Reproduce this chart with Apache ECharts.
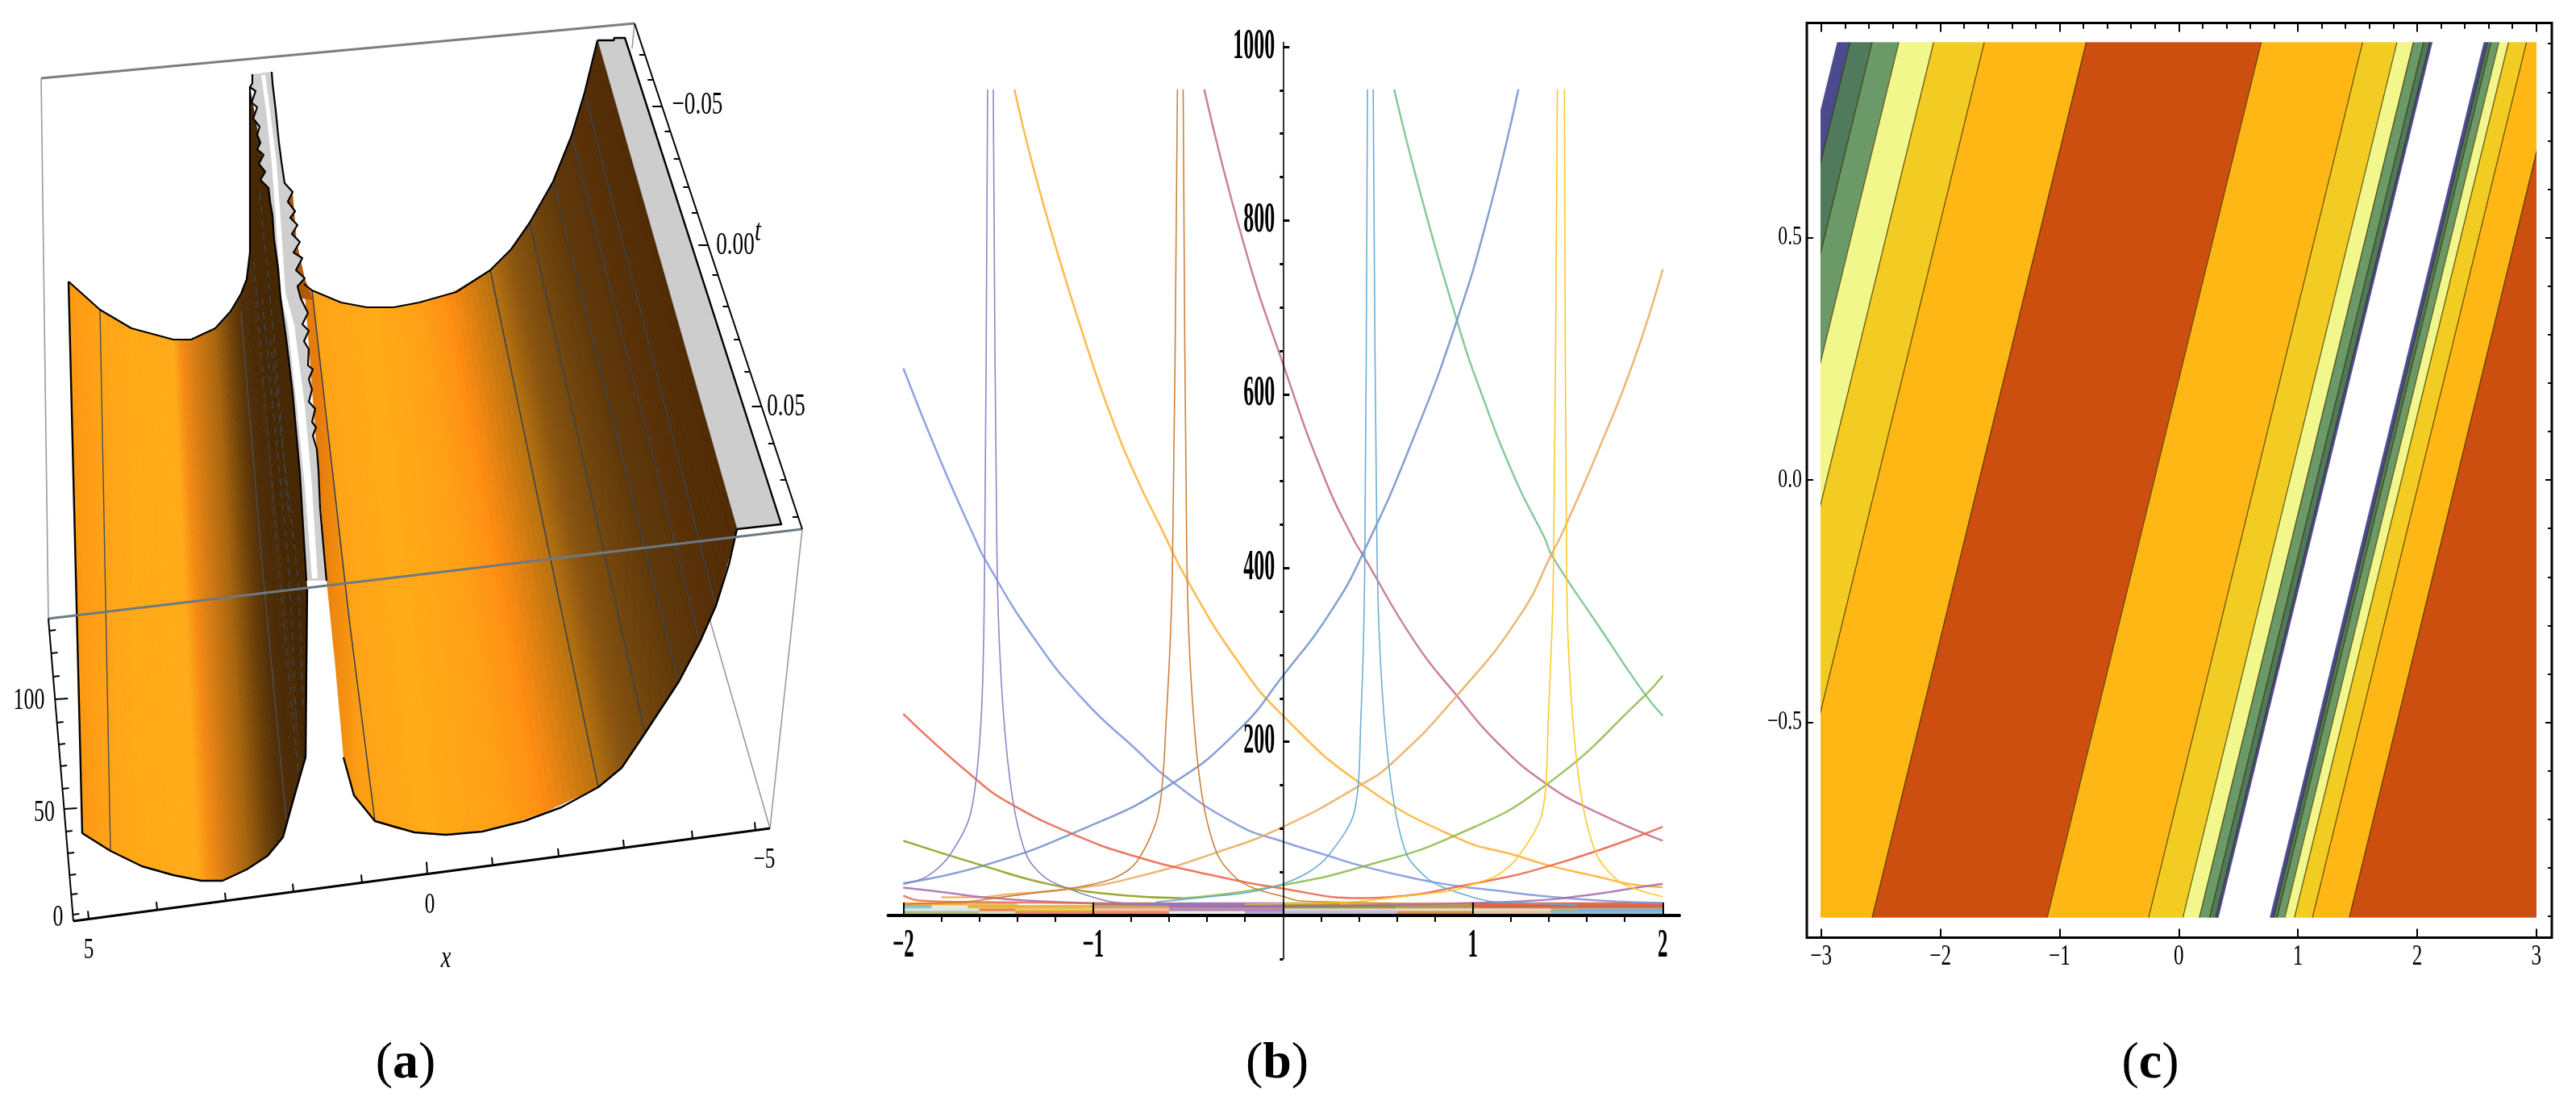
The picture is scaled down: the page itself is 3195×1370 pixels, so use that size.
<!DOCTYPE html>
<html><head><meta charset="utf-8">
<script src="https://cdn.jsdelivr.net/npm/echarts@6/dist/echarts.min.js"></script>
<style>html,body{margin:0;padding:0;background:#fff}#c{width:3195px;height:1370px}</style>
</head><body><div id="c"></div>
<script>
// ---------- panel (b): curves, [x, value] ----------
const periwinkle=[[-2,630],[-1.807,525],[-1.623,434],[-1.57,410],[-1.32,322],[-1.05,248],[-0.778,192],[-0.59,155],[-0.236,104],[0,85],[0.235,69],[0.415,57],[0.705,42],[0.918,34],[1.13,28.5],[1.34,23],[1.55,19],[1.76,16],[2,14.5]];
const orangeFall=[[-1.415,951],[-1.32,865],[-1.184,760],[-1.048,665],[-0.913,579],[-0.778,507],[-0.642,446],[-0.507,387],[-0.236,292],[0,230],[0.415,151],[0.92,89],[1.23,69],[1.41,57],[1.69,43],[1.83,36],[2,32.5]];
const roseFall=[[-0.415,951],[-0.209,775],[0,635],[0.225,500],[0.374,432],[0.415,417],[0.7,313],[0.916,253],[1.12,201],[1.39,151],[1.66,118],[2,86]];
const greenFall=[[0.585,951],[0.713,840],[0.916,685],[1.038,605],[1.228,500],[1.377,435],[1.417,414],[1.66,334],[1.905,255],[2,230]];
const slateRise=[[-2,37],[-1.57,58],[-1.05,100],[-0.59,151],[-0.236,213],[0,276],[0.252,350],[0.428,420],[0.686,549],[0.916,685],[1.09,814],[1.24,951]];
const tanRise=[[-1.8,21],[-1.59,21],[-1.47,24],[-1.1,31],[-0.778,44],[-0.344,73],[0,102],[0.415,151],[0.577,176],[0.916,253],[1.25,346],[1.417,417],[1.47,440],[1.66,535],[1.85,640],[2,744]];
const oliveFall=[[-2,86],[-1.59,58],[-1.21,35],[-0.83,23],[-0.53,20]];
const greenRise=[[-0.53,20],[-0.37,23],[0,35],[0.415,56],[0.916,93],[1.39,151],[1.905,253],[2,276]];
const redCurve=[[-2,232],[-1.645,162],[-1.43,128],[-1.076,91],[-0.778,68],[-0.45,50],[0,31],[0.415,20],[0.55,21],[0.916,33],[1.417,58],[2,102]];
const purpleLow=[[-2,32],[-1.875,29],[-1.76,26],[-1.66,23],[-1.52,20],[-1.24,16],[-0.9,13.5],[-0.5,12],[0,11],[0.5,12],[1.098,15],[1.27,16.5],[1.41,18.5],[1.55,22],[1.69,26],[1.83,31],[2,36.5]];
const redLow=[[-2,23],[-1.9,17],[-1.66,15.5],[-1.3,15],[-1,14],[-0.7,13.5]];
const purplePeakL=[[-2,36],[-1.875,45],[-1.76,68],[-1.645,118],[-1.59,226],[-1.572,392],[-1.556,951]];
const purplePeakR=[[-1.526,951],[-1.507,420],[-1.483,267],[-1.43,143],[-1.352,70],[-1.25,43],[-1.095,28],[-0.897,15.5],[-0.67,13],[0,11]];
const brownPeakL=[[-2,13],[-1.66,16],[-1.45,22],[-1.24,28],[-1.07,33],[-0.89,43],[-0.77,62],[-0.656,118],[-0.615,226],[-0.583,392],[-0.556,951]];
const brownPeakR=[[-0.526,951],[-0.507,420],[-0.483,267],[-0.43,143],[-0.347,71],[-0.247,43],[-0.148,31],[0,22],[0.08,17],[0.28,15.5],[0.56,14],[1,13]];
const bluePeakL=[[-0.67,15.5],[-0.32,23],[-0.17,27],[0,36.5],[0.135,50],[0.235,68],[0.374,118],[0.41,226],[0.43,392],[0.445,951]];
const bluePeakR=[[0.475,951],[0.495,420],[0.52,267],[0.575,143],[0.652,70],[0.758,43],[0.843,32.5],[0.985,22],[1.098,16],[1.27,14.5],[1.55,12]];
const yellowPeakL=[[-0.2,13],[0.135,14],[0.39,16],[0.63,22],[0.758,25],[0.9,29],[0.985,35],[1.126,46],[1.24,68],[1.365,118],[1.397,226],[1.424,392],[1.445,951]];
const yellowPeakR=[[1.482,951],[1.494,392],[1.513,267],[1.567,143],[1.65,71],[1.763,40],[1.876,29],[2,21.7]];
const lowRowValues=[13,10,6,3];
const lowRowBreaks=[[-2,-1.66,-1.4,-1,0,0.3,0.56,0.985,2],[-2,-1.85,-1.66,-1,-0.6,0,0.6,1,2],[-2,-1.6,-1.41,-0.98,-0.6,0,0.6,1.41,1.55,2],[-2,-1.6,-1.41,-0.6,-0.2,0,0.6,1,1.41,2]];
const bTickMajor=[0,200,400,600,800,1000];
const bTickMinor=[-50,50,100,150,250,300,350,450,500,550,650,700,750,850,900,950];
const bXTickMajor=[-2,-1,0,1,2];
const bXTickMinor=[-1.8,-1.6,-1.4,-1.2,-0.8,-0.6,-0.4,-0.2,0.2,0.4,0.6,0.8,1.2,1.4,1.6,1.8];
const bYLabels=[[200,'200'],[400,'400'],[600,'600'],[800,'800'],[1000,'1000']];
const bXLabels=[[-2,'−2'],[-1,'−1'],[1,'1'],[2,'2']];
// ---------- panel (c): contour lines, x at lower and upper edge ----------
const contourBottomX=[-7,-4.659,-4.552,-4.367,-4.143,-3.851,-3.426,-2.571,-1.102,-0.252,0.036,0.174,0.260,0.311,0.337,0.766,0.796,0.826,0.891,0.972,1.123,1.432,6];
const contourTopX=[-7,-2.863,-2.756,-2.571,-2.347,-2.055,-1.630,-0.775,0.694,1.544,1.832,1.970,2.056,2.107,2.133,2.562,2.592,2.622,2.687,2.768,2.919,3.228,7.8];
const cXMajor=[-3,-2,-1,0,1,2,3];
const cXMinor=[-2.8,-2.6,-2.4,-2.2,-1.8,-1.6,-1.4,-1.2,-0.8,-0.6,-0.4,-0.2,0.2,0.4,0.6,0.8,1.2,1.4,1.6,1.8,2.2,2.4,2.6,2.8];
const cYMajor=[-0.5,0,0.5];
const cYMinor=[-0.9,-0.8,-0.7,-0.6,-0.4,-0.3,-0.2,-0.1,0.1,0.2,0.3,0.4,0.6,0.7,0.8,0.9];
const cXLabels=[[-3,'−3'],[-2,'−2'],[-1,'−1'],[0,'0'],[1,'1'],[2,'2'],[3,'3']];
const cYLabels=[[-0.5,'−0.5'],[0,'0.0'],[0.5,'0.5']];
// ---------- panel (a): surface read in the picture's view plane ----------
const leftBack=[[85,349],[124,384],[163,407],[215,421],[225,421],[237,421],[267,407],[286,386],[299,364],[306,346],[310,313]];
const leftFront=[[102,1033],[137,1055],[176,1074],[245,1092],[263,1092],[276,1092],[306,1078],[332,1061],[351,1038],[364,991],[374,956]];
const leftDark=[[310,313],[310,107],[338,267],[348,370],[363,487],[372,587],[381,728],[379,939],[374,956]];
const rightBack=[[387,360],[423,375],[455,381],[488,381],[520,375],[556,366],[608,335],[634,309],[657,276],[686,225],[709,168],[725,115],[741,50]];
const rightFront=[[465,1018],[490,1027],[530,1034],[565,1035],[625,1024],[675,1007],[742,976],[771,952],[800,909],[842,845],[868,796],[888,751],[914,656]];
const rightInner=[[377,350],[405,720],[416,828],[426,939],[439,986],[465,1018],[387,360]];
const backEdgeRight=[[377,352],[387,360],[423,375],[455,381],[488,381],[520,375],[566,362],[608,335],[634,309],[657,276],[686,225],[709,168],[725,115],[741,50]];
const frontEdgeRight=[[426,939],[439,986],[465,1018],[514,1032],[553,1035],[598,1031],[650,1018],[696,1001],[742,976],[771,952],[800,909],[842,845],[868,796],[888,751],[904,700],[914,656]];
const backEdgeLeft=[[85,349],[124,384],[163,407],[215,421],[237,421],[267,407],[286,386],[299,364],[306,346],[310,313],[310,107]];
const frontEdgeLeft=[[85,349],[102,1033],[137,1055],[176,1074],[215,1085],[250,1092],[276,1092],[306,1078],[332,1061],[351,1038],[364,991],[374,956],[379,939],[381,728]];
const capOutline=[[741,50],[761,50],[762,47],[775,47],[780,62],[969,650],[914,656]];
const ribbonLeft=[[313,92],[313,103],[310,108],[317,113],[312,127],[319,133],[314,147],[322,157],[319,167],[323,177],[319,185],[327,192],[321,203],[329,213],[323,223],[333,233],[335,250],[338,267],[340,297],[345,333],[348,370],[355,420],[363,487],[372,587],[380,720]];
const ribbonRight=[[337,89],[338,103],[342,137],[346,177],[349,200],[353,227],[363,238],[357,250],[366,262],[360,270],[369,279],[362,290],[372,300],[364,313],[375,320],[367,335],[378,345],[369,355],[373,370],[382,388],[375,402],[383,410],[377,423],[383,433],[382,453],[388,458],[383,470],[387,483],[383,498],[391,507],[387,523],[392,530],[388,540],[393,557],[395,583],[397,630],[402,687],[405,720]];
const whiteStripeL=[[324,93],[330,137],[337,203],[342,270],[348,363],[357,403],[368,503],[378,603],[387,717]];
const whiteStripeR=[[329,93],[335,137],[343,203],[348,270],[354,363],[365,403],[378,503],[387,603],[394,717]];
const sliver=[[349,200],[353,227],[363,238],[368,300],[378,345],[388,372],[373,370],[369,355],[367,335],[375,320],[364,313],[372,300],[362,290],[369,279],[360,270],[366,262],[357,250]];
const meshRight=[[[387,360],[433,767],[465,1018]],[[608,335],[742,976]],[[657,276],[800,909]],[[686,225],[842,845]],[[709,168],[868,796]],[[725,115],[888,751]]];
const meshLeft=[[[124,384],[137,1055]],[[299,386],[325,700],[355,1016]]];
const meshDashed=[[[315,325],[345,700],[370,960]],[[325,370],[358,700],[368,900]],[[335,420],[370,720],[376,880]],[[322,240],[340,420],[358,640]],[[357,400],[395,720]]];
const boxThick=[[[51,97],[787,29]],[[60,767],[995,656]]];
const boxThin=[[[51,97],[60,767]],[[995,656],[955,1027]],[[878,760],[955,1027]],[[787,29],[784,60]]];
const axisBottom=[[91,1142],[955,1027]];
const axisLeft=[[91,1142],[60,767]];
const axisT=[[787,29],[995,656]];
const aXTicksAt=[110,195,280,364,449,530,611,693,774,859,937];
const aZTicksAt=[1134,1109,1085,1058,1031,1003,978,950,923,896,867,839,810,782];
const aTTicksAt=[68,99,132,163,197,232,264,304,341,380,421,461,504,550,595,641];
const aLabels=[[36,869,'100'],[55,1008,'50'],[72,1138,'0'],[110,1179,'5'],[533,1123,'0'],[948,1067,'−5'],[865,130,'−0.05'],[912,304,'0.00'],[975,504,'0.05']];
const aItalics=[[553,1189,'x'],[940,288,'t']];

// ---------- styles ----------
const leftColors=['#ff9712','#ffa317','#ffa917','#ffaa18','#f58a12','#dd7f13','#a8650e','#6e4208','#4f2d06','#4a2a05','#4a2a05'];
const rightColors=['#ffa315','#ffa616','#ffaa17','#ffa616','#ffa015','#ff8d12','#b5710f','#8a5510','#74470c','#5f380a','#5a3208','#552e06','#512c06'];
const lowRowColors=[['#f3a21c','#e8b86a','#ffffff','#9a6aa8','#a8a010','#f2be10','#f8b8a0','#e8583a'],['#8ab8c8','#e0e8e0','#e0b030','#c89a5a','#a86a90','#8a9410','#a89050','#c8643c'],['#d0e4e4','#f07030','#e8c040','#f4b890','#a878a8','#d8c8e0','#e8d8b0','#9aa888','#70a8cc'],['#a8c070','#d8e0c0','#f08050','#eeeeee','#b0a0d0','#c0b4d8','#cc8838','#e0c0a0','#80b8d0']];
const bandColors=['#ffffff','#4b4a8f','#4f7a5c','#6b9a68','#f2f78c','#f2cc22','#ffb716','#cc4f10','#ffb716','#f2cc22','#f2f78c','#6b9a68','#4f7a5c','#4b4a8f','#ffffff','#4b4a8f','#4f7a5c','#6b9a68','#f2f78c','#f2cc22','#ffb716','#cc4f10'];
const serif='"Liberation Serif","DejaVu Serif",serif';

function hex(c){return [parseInt(c.slice(1,3),16),parseInt(c.slice(3,5),16),parseInt(c.slice(5,7),16)];}
function mix(a,b,t){const A=hex(a),B=hex(b);return 'rgb('+A.map((v,i)=>Math.round(v+(B[i]-v)*t)).join(',')+')';}
function renderScene(params,api){
  const c=p=>api.coord(p);
  const kids=[];
  const poly=(pts,fill,stroke,w)=>kids.push({type:'polygon',shape:{points:pts.map(c)},style:{fill:fill,stroke:stroke||null,lineWidth:w||0}});
  const pl=(pts,stroke,w,dash)=>kids.push({type:'polyline',shape:{points:pts.map(c)},style:{fill:null,stroke:stroke,lineWidth:w,lineDash:dash||null,lineJoin:'round'}});
  // one sheet of the surface, shaded across its columns
  const sheet=(back,front,cols)=>{const N=8;
    for(let i=0;i<back.length-1;i++){
      const b0=c(back[i]),b1=c(back[i+1]),f0=c(front[i]),f1=c(front[i+1]);
      for(let k=0;k<N;k++){const t0=k/N,t1=(k+1)/N;
        const L=(p,q,t)=>[p[0]+(q[0]-p[0])*t,p[1]+(q[1]-p[1])*t];
        const col=mix(cols[i],cols[i+1],(t0+t1)/2);
        kids.push({type:'polygon',shape:{points:[L(b0,b1,t0),L(b0,b1,t1),L(f0,f1,t1),L(f0,f1,t0)]},style:{fill:col,stroke:col,lineWidth:.8}});
      }
    }};
  boxThin.forEach(s=>pl(s,'#9a9a9a',1.6));
  pl(boxThick[0],'#7d7d7d',3);
  poly(capOutline,'#cdcdcd');
  pl(capOutline,'#000',2.4);
  sheet(leftBack,leftFront,leftColors);
  poly(leftDark,'#472805');
  kids.push({type:'polygon',shape:{points:rightInner.map(c)},style:{fill:new echarts.graphic.LinearGradient(c([395,0])[0],0,c([450,0])[0],0,[{offset:0,color:'#e67c0c'},{offset:1,color:'#ffa014'}],true)}});
  sheet(rightBack,rightFront,rightColors);
  meshRight.forEach(s=>pl(s,'#3d444c',1.6));
  meshLeft.forEach(s=>pl(s,'#4a4f55',1.4));
  meshDashed.forEach(s=>pl(s,'#3d444c',1.5,[9,7]));
  poly(sliver,'#b05a08');
  poly(ribbonLeft.concat(ribbonRight.slice().reverse()),'#cfcfcf');
  poly(whiteStripeL.concat(whiteStripeR.slice().reverse()),'#ffffff');
  pl(ribbonLeft,'#000',2.2);
  pl(ribbonRight,'#000',2.2);
  pl(backEdgeLeft,'#000',2.2);
  pl(frontEdgeLeft,'#000',2.4);
  pl(backEdgeRight,'#000',2.2);
  pl(frontEdgeRight,'#000',2.4);
  pl(boxThick[1],'#6e7a82',3);
  pl(axisBottom,'#000',3);
  pl(axisLeft,'#000',2);
  pl(axisT,'#000',2);
  aXTicksAt.forEach((x,i)=>{const y=axisBottom[0][1]+(x-axisBottom[0][0])*(axisBottom[1][1]-axisBottom[0][1])/(axisBottom[1][0]-axisBottom[0][0]);
    pl([[x,y],[x-1,y-(i===5?15:10)]],'#000',2);});
  aZTicksAt.forEach((y,i)=>{const x=axisLeft[0][0]+(y-axisLeft[0][1])*(axisLeft[1][0]-axisLeft[0][0])/(axisLeft[1][1]-axisLeft[0][1]);
    pl([[x,y],[x+(i===5||i===10?16:8),y-1]],'#000',2);});
  aTTicksAt.forEach((y,i)=>{const x=axisT[0][0]+(y-axisT[0][1])*(axisT[1][0]-axisT[0][0])/(axisT[1][1]-axisT[0][1]);
    pl([[x,y],[x-(i%5===2?12:7),y]],'#000',2);});
  return {type:'group',children:kids};
}
function textSeries(xi,yi,items,o){
  return {type:'custom',xAxisIndex:xi,yAxisIndex:yi,silent:true,z:12,data:items.map((d,i)=>[o.pos(d)[0],o.pos(d)[1],i]),
    renderItem:(params,api)=>{const d=items[params.dataIndex];const p=api.coord(o.pos(d));
      return {type:'text',x:p[0]+(o.dx||0),y:p[1]+(o.dy||0),scaleX:o.scaleX||1,
        style:{text:d[d.length-1],font:(o.italic?'italic ':'')+(o.weight||'normal')+' '+o.size+'px '+serif,fill:'#000',align:o.align||'center',verticalAlign:'middle'}};}};
}
function curve(name,data,color,width,op,sm){
  return {name:name,type:'line',xAxisIndex:1,yAxisIndex:1,data:data,showSymbol:false,symbol:'none',smooth:sm,silent:true,z:3,
    lineStyle:{color:color,width:width,opacity:op}};
}
const series=[];
series.push({type:'custom',xAxisIndex:0,yAxisIndex:0,silent:true,z:2,data:[[0,0]],renderItem:renderScene});
series.push(textSeries(0,0,aLabels.slice(0,3),{pos:d=>[d[0],d[1]],size:37,scaleX:.7}));
series.push(textSeries(0,0,aLabels.slice(3,6),{pos:d=>[d[0],d[1]],size:36,scaleX:.7}));
series.push(textSeries(0,0,aLabels.slice(6),{pos:d=>[d[0],d[1]],size:40,scaleX:.68}));
series.push(textSeries(0,0,aItalics,{pos:d=>[d[0],d[1]],size:38,scaleX:.75,italic:true}));
lowRowValues.forEach((v,r)=>{const br=lowRowBreaks[r];for(let i=0;i<br.length-1;i++){
  series.push(curve('low',[[br[i],v],[br[i+1],v]],lowRowColors[r][i],4.4,lowRowColors[r][i]==='#ffffff'?0:.9,false));}});
const wide=2.5,thin=1.6;
[['periwinkle',periwinkle,'#7a94dc'],['orange',orangeFall,'#ffae2e'],['rose',roseFall,'#c2688e'],['green',greenFall,'#72c08c'],['slate',slateRise,'#6f8fc8'],['tan',tanRise,'#eca85a'],['olive',oliveFall,'#8a9a10'],['greenRise',greenRise,'#8db845'],['red',redCurve,'#ea5f48'],['purpleLow',purpleLow,'#a668ae'],['redLow',redLow,'#ea6a48']]
  .forEach(d=>series.push(curve(d[0],d[1],d[2],wide,.85,.5)));
[['pp1',purplePeakL,'#8d7cc0'],['pp2',purplePeakR,'#8d7cc0'],['bp1',brownPeakL,'#c97a2e'],['bp2',brownPeakR,'#c97a2e'],['lp1',bluePeakL,'#66a8d2'],['lp2',bluePeakR,'#66a8d2'],['yp1',yellowPeakL,'#ffc61e'],['yp2',yellowPeakR,'#ffc61e']]
  .forEach(d=>series.push(curve(d[0],d[1],d[2],thin,.95,.3)));
series.push(textSeries(1,1,bYLabels,{pos:d=>[0,d[0]],dx:-10,size:53,scaleX:.49,align:'right',weight:'bold'}));
series.push(textSeries(1,1,bXLabels,{pos:d=>[d[0],0],dy:38,size:50,scaleX:.5,weight:'bold'}));
series.push({type:'custom',xAxisIndex:7,yAxisIndex:7,silent:true,clip:true,z:2,data:bandColors.map((c,i)=>[i,0]),
  renderItem:(params,api)=>{const i=params.dataIndex;
    const yb=-0.903,yt=0.903;
    const A=api.coord([contourBottomX[i],yb]),B=api.coord([contourBottomX[i+1],yb]),C=api.coord([contourTopX[i+1],yt]),D=api.coord([contourTopX[i],yt]);
    const kids=[{type:'polygon',shape:{points:[A,B,C,D]},style:{fill:bandColors[i],stroke:bandColors[i],lineWidth:.5}}];
    if(i>1&&bandColors[i]!=='#ffffff'&&bandColors[i-1]!=='#ffffff')kids.push({type:'line',z2:5,shape:{x1:A[0],y1:A[1],x2:D[0],y2:D[1]},style:{stroke:'rgba(60,45,0,0.75)',lineWidth:1.3}});
    return {type:'group',children:kids};}});
series.push(textSeries(3,3,cXLabels,{pos:d=>[d[0],-0.944],dy:24,size:35,scaleX:.72}));
series.push(textSeries(3,3,cYLabels,{pos:d=>[-3.12,d[0]],dx:-6,size:33,scaleX:.72,align:'right'}));

const none={show:false};
function tickAxis(base,vals,len,w,extra){
  return Object.assign({type:'value',axisLine:none,splitLine:none,axisLabel:{show:false},z:8,
    axisTick:{show:true,inside:true,length:len,lineStyle:{color:'#000',width:w},customValues:vals}},base,extra||{});
}
const cx={gridIndex:2,min:-3.12,max:3.13},cy={gridIndex:2,min:-0.944,max:0.943};
const noZero={axisLine:{show:false,onZero:false}};
const rich={n:{fontFamily:serif,fontSize:64,fontWeight:'normal',color:'#000',lineHeight:78},b:{fontFamily:serif,fontSize:64,fontWeight:'bold',color:'#000',lineHeight:78}};
const option={
  animation:false,backgroundColor:'#fff',
  title:[['a',498],['b',1579],['c',2662]].map(t=>({text:'{n|(}{b|'+t[0]+'}{n|)}',left:t[1],top:1275,textAlign:'center',textStyle:{rich:rich}})),
  grid:[
    {left:0,top:0,width:1020,height:1370},
    {left:1101.5,top:52.6,width:981.5,height:1136.3},
    {left:2241,top:28.4,width:924,height:1134,show:true,borderColor:'#000',borderWidth:3,backgroundColor:'transparent'},
    {left:2258.6,top:52.3,width:887,height:1085.4}
  ],
  xAxis:[
    {type:'value',gridIndex:0,min:0,max:1020,show:false},
    tickAxis({gridIndex:1,min:-2.08,max:2.088},bXTickMajor,16,2,{axisLine:{show:true,onZero:true,onZeroAxisIndex:1,lineStyle:{color:'#000',width:4}}}),
    tickAxis({gridIndex:1,min:-2.08,max:2.088},bXTickMinor,8,2,{axisLine:{show:false,onZero:true,onZeroAxisIndex:1}}),
    tickAxis(cx,cXMajor,11,2,noZero),tickAxis(cx,cXMinor,7,1.6,noZero),
    tickAxis(Object.assign({position:'top'},cx),cXMajor,11,2,noZero),tickAxis(Object.assign({position:'top'},cx),cXMinor,7,1.6,noZero),
    {type:'value',gridIndex:3,min:-3,max:3,show:false}
  ],
  yAxis:[
    {type:'value',gridIndex:0,min:0,max:1370,inverse:true,show:false},
    tickAxis({gridIndex:1,min:-50,max:1005},bTickMajor,8,3,{axisLine:{show:true,onZero:true,onZeroAxisIndex:1,lineStyle:{color:'#000',width:1.6}}}),
    tickAxis({gridIndex:1,min:-50,max:1005},bTickMinor,4,3,{axisLine:{show:false,onZero:true,onZeroAxisIndex:1}}),
    tickAxis(cy,cYMajor,8,2,noZero),tickAxis(cy,cYMinor,5,1.6,noZero),
    tickAxis(Object.assign({position:'right'},cy),cYMajor,8,2,noZero),tickAxis(Object.assign({position:'right'},cy),cYMinor,5,1.6,noZero),
    {type:'value',gridIndex:3,min:-0.903,max:0.903,show:false}
  ],
  series:series
};
const chart=echarts.init(document.getElementById('c'),null,{renderer:'canvas',width:3195,height:1370});
chart.setOption(option);
</script></body></html>
